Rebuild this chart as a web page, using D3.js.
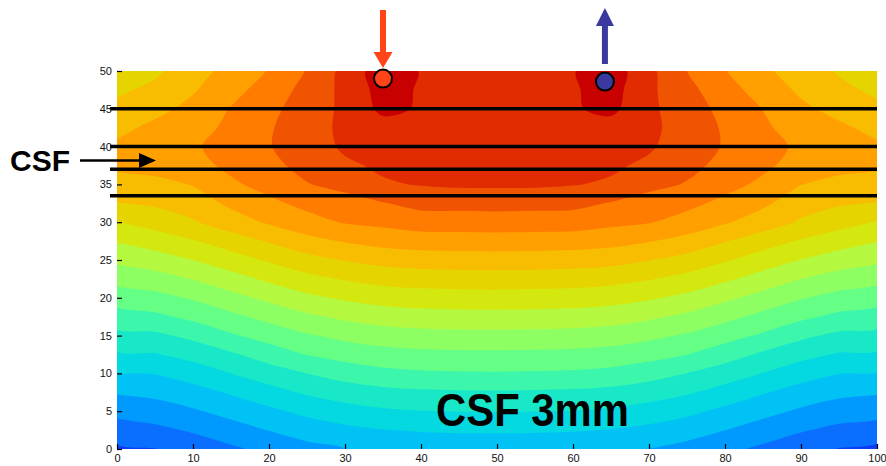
<!DOCTYPE html>
<html>
<head>
<meta charset="utf-8">
<script src="https://cdn.jsdelivr.net/npm/d3@7"></script>
<style>
  html, body { margin: 0; padding: 0; background: #fff; }
  svg { display: block; font-family: "Liberation Sans", Arial, Helvetica, sans-serif; }
</style>
</head>
<body>
<svg id="chart" width="886" height="466"></svg>
<script>
// ---- Data --------------------------------------------------------------
// Sample positions of the potential grid (mm)
const xGrid = [0, 5, 10, 15, 20, 25, 30, 35, 40, 45, 50, 55, 60, 65, 70, 75, 80, 85, 90, 95, 100];
const yGrid = [0, 2.5, 5, 7.5, 10, 12.5, 15, 17.5, 20, 22.5, 25, 27.5, 30, 32.5, 35, 37.5, 40, 42.5, 45, 47.5, 50];

// Potential level at each grid node, one array per x column (bottom -> top)
const potentialLevels = [
  [0.86, 1.54, 2.27, 3.10, 3.97, 4.89, 5.73, 6.59, 7.46, 8.34, 9.21, 10.07, 10.96, 11.96, 12.60, 13.20, 13.20, 12.71, 12.25, 11.82, 11.40],
  [0.98, 1.77, 2.52, 3.27, 4.04, 4.93, 5.79, 6.79, 7.69, 8.59, 9.54, 10.48, 11.40, 12.15, 12.70, 13.40, 13.65, 13.25, 12.70, 12.25, 11.80],
  [1.40, 2.12, 2.88, 3.64, 4.46, 5.34, 6.25, 7.24, 8.11, 9.04, 10.00, 10.93, 11.90, 12.50, 13.05, 13.70, 13.90, 13.65, 13.30, 12.90, 12.55],
  [1.83, 2.58, 3.33, 4.11, 5.00, 5.86, 6.88, 7.76, 8.67, 9.62, 10.56, 11.50, 12.55, 13.20, 13.85, 14.20, 14.30, 14.20, 14.05, 13.70, 13.35],
  [2.27, 3.03, 3.79, 4.64, 5.52, 6.46, 7.41, 8.30, 9.23, 10.19, 11.12, 12.08, 13.12, 13.80, 14.30, 14.75, 14.95, 14.90, 14.70, 14.40, 14.06],
  [2.70, 3.45, 4.25, 5.14, 6.00, 7.03, 7.90, 8.81, 9.77, 10.70, 11.65, 12.67, 13.68, 14.25, 14.95, 15.30, 15.50, 15.60, 15.55, 15.35, 15.06],
  [3.00, 3.76, 4.61, 5.48, 6.42, 7.38, 8.26, 9.19, 10.15, 11.08, 12.04, 13.08, 14.07, 14.60, 15.30, 15.85, 16.15, 16.20, 16.18, 16.25, 16.30],
  [3.21, 3.97, 4.86, 5.72, 6.71, 7.62, 8.52, 9.46, 10.41, 11.35, 12.33, 13.36, 14.25, 14.95, 15.90, 16.15, 16.30, 16.60, 17.25, 17.40, 17.60],
  [3.31, 4.08, 4.98, 5.84, 6.85, 7.73, 8.64, 9.59, 10.53, 11.47, 12.47, 13.49, 14.50, 15.30, 16.05, 16.22, 16.35, 16.50, 16.90, 16.90, 16.95],
  [3.35, 4.13, 5.02, 5.89, 6.90, 7.78, 8.69, 9.64, 10.57, 11.52, 12.52, 13.54, 14.50, 15.33, 16.15, 16.25, 16.35, 16.45, 16.50, 16.55, 16.60],
  [3.36, 4.14, 5.03, 5.90, 6.92, 7.79, 8.70, 9.65, 10.59, 11.54, 12.54, 13.56, 14.52, 15.36, 16.15, 16.25, 16.35, 16.45, 16.50, 16.55, 16.60],
  [3.34, 4.12, 5.01, 5.88, 6.89, 7.77, 8.68, 9.63, 10.56, 11.51, 12.51, 13.53, 14.50, 15.32, 16.14, 16.25, 16.36, 16.47, 16.55, 16.62, 16.68],
  [3.30, 4.07, 4.97, 5.83, 6.84, 7.72, 8.63, 9.58, 10.52, 11.46, 12.46, 13.48, 14.48, 15.28, 16.04, 16.22, 16.36, 16.55, 16.90, 16.90, 16.95],
  [3.20, 3.96, 4.85, 5.71, 6.70, 7.61, 8.51, 9.45, 10.40, 11.34, 12.32, 13.35, 14.24, 14.94, 15.88, 16.15, 16.30, 16.60, 17.25, 17.40, 17.55],
  [2.98, 3.74, 4.59, 5.46, 6.40, 7.36, 8.24, 9.17, 10.13, 11.06, 12.02, 13.06, 14.05, 14.58, 15.28, 15.82, 16.12, 16.22, 16.18, 16.20, 16.25],
  [2.68, 3.43, 4.23, 5.12, 5.98, 7.01, 7.88, 8.79, 9.75, 10.68, 11.63, 12.65, 13.66, 14.23, 14.93, 15.28, 15.50, 15.58, 15.52, 15.30, 15.00],
  [2.25, 3.01, 3.77, 4.62, 5.50, 6.44, 7.39, 8.28, 9.21, 10.17, 11.10, 12.06, 13.10, 13.78, 14.28, 14.72, 14.92, 14.88, 14.68, 14.38, 14.05],
  [1.80, 2.55, 3.30, 4.08, 4.97, 5.83, 6.85, 7.73, 8.64, 9.59, 10.53, 11.47, 12.52, 13.18, 13.82, 14.17, 14.27, 14.15, 13.98, 13.60, 13.20],
  [1.37, 2.09, 2.85, 3.61, 4.43, 5.31, 6.22, 7.21, 8.08, 9.01, 9.97, 10.90, 11.87, 12.47, 13.02, 13.66, 13.86, 13.60, 13.22, 12.82, 12.48],
  [0.96, 1.75, 2.50, 3.25, 4.02, 4.91, 5.77, 6.77, 7.67, 8.57, 9.52, 10.46, 11.38, 12.12, 12.66, 13.36, 13.60, 13.20, 12.66, 12.25, 11.90],
  [0.78, 1.57, 2.35, 3.10, 3.95, 4.87, 5.71, 6.57, 7.44, 8.32, 9.19, 10.05, 10.94, 11.94, 12.58, 13.17, 13.18, 12.69, 12.22, 11.80, 11.42]
];

// Contour levels separating the filled bands
const levelThresholds = [1, 2, 3, 4, 5, 6, 7, 8, 9, 10, 11, 12, 13, 14, 15, 16, 17];

// Tissue layer boundaries (depth, mm)
const layerDepths = [45, 40, 37, 33.5];

// Stimulating electrodes: anode (current in) and cathode (current out)
const electrodeX = [35, 64.2];
const electrodeY = [49, 48.6];

const xTicks = [0, 10, 20, 30, 40, 50, 60, 70, 80, 90, 100];
const yTicks = [0, 5, 10, 15, 20, 25, 30, 35, 40, 45, 50];

const layerLabel = "CSF";
const caseLabel = "CSF 3mm";

// ---- Styles ------------------------------------------------------------
const bandColors = [
  "#0a3cf5", "#0a6eff", "#009aff", "#00c2f4", "#04d8e0", "#18e8c8",
  "#3cf6ac", "#66ff86", "#8eff62", "#b4f840", "#d4e810", "#e6d400",
  "#f8bc00", "#ffa000", "#ff7c00", "#f05400", "#e02c00", "#c80000"
];
const anodeColor = "#ff4418";
const cathodeColor = "#3a3a9e";

// ---- Layout ------------------------------------------------------------
const svg = d3.select("#chart");
const x = d3.scaleLinear().domain([0, 100]).range([117, 877]);
const y = d3.scaleLinear().domain([0, 50]).range([449, 71]);

// ---- Filled contours ---------------------------------------------------
const nx = xGrid.length, ny = yGrid.length;
const dxStep = xGrid[1] - xGrid[0], dyStep = yGrid[1] - yGrid[0];
const gridValues = new Array(nx * ny);
for (let j = 0; j < ny; j++) {
  for (let i = 0; i < nx; i++) gridValues[j * nx + i] = potentialLevels[i][j];
}
const bands = d3.contours().size([nx, ny]).thresholds(levelThresholds)(gridValues);

svg.append("defs").append("clipPath").attr("id", "plotClip")
  .append("rect")
  .attr("x", x(0)).attr("y", y(50))
  .attr("width", x(100) - x(0)).attr("height", y(0) - y(50));

const field = svg.append("g").attr("clip-path", "url(#plotClip)");

field.append("rect")
  .attr("x", x(0)).attr("y", y(50))
  .attr("width", x(100) - x(0)).attr("height", y(0) - y(50))
  .attr("fill", bandColors[0]);

const ringLine = d3.line()
  .x(p => x(xGrid[0] + (p[0] - 0.5) * dxStep))
  .y(p => y(yGrid[0] + (p[1] - 0.5) * dyStep))
  .curve(d3.curveCatmullRomClosed.alpha(0.5));

function bandPath(geom) {
  return geom.coordinates.map(poly =>
    poly.map(ring => ringLine(ring.slice(0, -1))).join("")
  ).join("");
}

field.selectAll("path.band")
  .data(bands)
  .join("path")
  .attr("class", "band")
  .attr("d", d => bandPath(d))
  .attr("fill", (d, i) => bandColors[i + 1])
  .attr("fill-rule", "evenodd");

// ---- Layer boundaries --------------------------------------------------
svg.append("g").selectAll("line")
  .data(layerDepths)
  .join("line")
  .attr("x1", x(0) - 7).attr("x2", x(100))
  .attr("y1", d => y(d)).attr("y2", d => y(d))
  .attr("stroke", "#000").attr("stroke-width", 3.5);

// ---- Axes (ticks point inward) -----------------------------------------
const yAxisG = svg.append("g")
  .attr("transform", `translate(${x(0)},0)`)
  .call(d3.axisLeft(y).tickValues(yTicks).tickSize(-5).tickPadding(5));
const xAxisG = svg.append("g")
  .attr("transform", `translate(0,${y(0)})`)
  .call(d3.axisBottom(x).tickValues(xTicks).tickSize(-5).tickPadding(5));
[yAxisG, xAxisG].forEach(g => {
  g.select(".domain").remove();
  g.selectAll(".tick line").attr("stroke", "#000").attr("stroke-width", 1.2);
  g.selectAll(".tick text")
    .attr("fill", "#111")
    .style("font-size", "11px")
    .style("font-family", "'Liberation Sans', Arial, sans-serif");
});

// ---- Electrodes and current arrows -------------------------------------
const ax = x(electrodeX[0]);
svg.append("rect")
  .attr("x", ax - 3).attr("y", 10).attr("width", 6).attr("height", 44)
  .attr("fill", anodeColor);
svg.append("path")
  .attr("d", `M${ax - 9.5},52 L${ax + 9.5},52 L${ax},68 Z`)
  .attr("fill", anodeColor);

const cx = x(electrodeX[1]);
svg.append("rect")
  .attr("x", cx - 3).attr("y", 24).attr("width", 6).attr("height", 40)
  .attr("fill", cathodeColor);
svg.append("path")
  .attr("d", `M${cx - 9},26 L${cx + 9},26 L${cx},8 Z`)
  .attr("fill", cathodeColor);

svg.append("g").selectAll("circle")
  .data(electrodeX)
  .join("circle")
  .attr("cx", d => x(d))
  .attr("cy", (d, i) => y(electrodeY[i]))
  .attr("r", 9)
  .attr("fill", (d, i) => i === 0 ? anodeColor : cathodeColor)
  .attr("stroke", "#000").attr("stroke-width", 2);

// ---- Labels ------------------------------------------------------------
svg.append("text")
  .attr("x", 10).attr("y", 170.5)
  .attr("font-size", 30).attr("font-weight", "bold")
  .attr("fill", "#000")
  .text(layerLabel);

const arrowY = 160.5;
svg.append("line")
  .attr("x1", 80).attr("x2", 142)
  .attr("y1", arrowY).attr("y2", arrowY)
  .attr("stroke", "#000").attr("stroke-width", 2.5);
svg.append("path")
  .attr("d", `M139,${arrowY - 7.5} L139,${arrowY + 7.5} L156,${arrowY} Z`)
  .attr("fill", "#000");

svg.append("text")
  .attr("x", 436).attr("y", 426)
  .attr("font-size", 46).attr("font-weight", "bold")
  .attr("fill", "#000")
  .attr("textLength", 193).attr("lengthAdjust", "spacingAndGlyphs")
  .text(caseLabel);
</script>
</body>
</html>
